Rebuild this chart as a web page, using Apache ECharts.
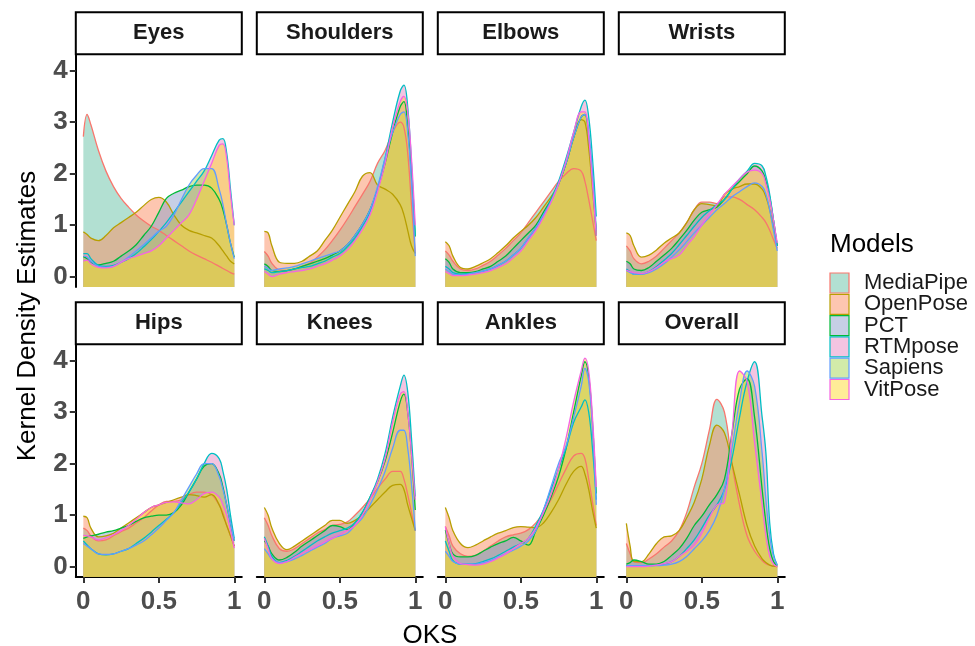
<!DOCTYPE html>
<html><head><meta charset="utf-8">
<script src="https://cdn.jsdelivr.net/npm/echarts@6/dist/echarts.min.js"></script>
<style>html,body{margin:0;padding:0;background:#fff}#c{width:975px;height:646px}</style>
</head><body><div id="c"></div>
<script>
const models = ['MediaPipe','OpenPose','PCT','RTMpose','Sapiens','VitPose'];
const panels = ['Eyes','Shoulders','Elbows','Wrists','Hips','Knees','Ankles','Overall'];
const xs = [0,0.025,0.05,0.1,0.15,0.2,0.25,0.3,0.35,0.4,0.45,0.5,0.55,0.6,0.65,0.7,0.75,0.8,0.85,0.9,0.925,0.95,0.975,1];
const yTicks = [0,1,2,3,4];
const xTicks = [0,0.5,1];

const eyes = [
 [2.72,3.15,2.95,2.45,2.05,1.75,1.52,1.35,1.2,1.08,0.98,0.9,0.8,0.7,0.6,0.5,0.42,0.35,0.28,0.2,0.16,0.12,0.08,0.05],
 [0.87,0.82,0.75,0.7,0.8,0.95,1.05,1.15,1.25,1.38,1.5,1.54,1.45,1.2,1.0,0.9,0.85,0.8,0.75,0.6,0.5,0.4,0.3,0.25],
 [0.39,0.35,0.28,0.23,0.26,0.3,0.4,0.5,0.62,0.8,0.98,1.25,1.52,1.62,1.68,1.75,1.78,1.78,1.72,1.5,1.3,1.0,0.65,0.38],
 [0.45,0.45,0.35,0.22,0.2,0.22,0.28,0.35,0.45,0.58,0.72,0.88,1.05,1.25,1.45,1.65,1.85,2.05,2.35,2.65,2.68,2.4,1.7,1.0],
 [0.4,0.38,0.3,0.2,0.18,0.2,0.28,0.38,0.5,0.62,0.75,0.88,0.98,1.2,1.5,1.78,1.97,2.1,2.1,1.7,1.4,1.0,0.65,0.35],
 [0.3,0.32,0.25,0.18,0.17,0.2,0.28,0.35,0.4,0.45,0.5,0.6,0.75,0.9,1.05,1.2,1.5,1.85,2.2,2.55,2.58,2.3,1.6,1.0]
];
const shoulders = [
 [0.49,0.4,0.26,0.13,0.12,0.15,0.2,0.26,0.38,0.52,0.7,0.9,1.12,1.36,1.6,1.85,2.2,2.45,2.8,3.0,2.9,2.4,1.4,0.45],
 [0.88,0.85,0.6,0.28,0.26,0.26,0.3,0.4,0.5,0.7,0.9,1.15,1.4,1.65,1.95,2.02,1.78,1.7,1.6,1.4,1.2,0.9,0.6,0.45],
 [0.25,0.2,0.12,0.1,0.12,0.15,0.2,0.25,0.3,0.35,0.42,0.5,0.62,0.8,1.02,1.3,1.7,2.2,2.8,3.3,3.4,2.9,2.0,0.78],
 [0.15,0.12,0.08,0.1,0.12,0.15,0.18,0.2,0.25,0.3,0.38,0.45,0.58,0.75,0.98,1.25,1.7,2.3,3.0,3.6,3.72,3.3,2.2,0.8],
 [0.2,0.16,0.12,0.15,0.17,0.2,0.25,0.3,0.35,0.4,0.45,0.5,0.62,0.8,1.02,1.3,1.75,2.3,2.8,3.15,3.2,2.8,1.8,0.4],
 [0.1,0.05,0.0,0.05,0.08,0.1,0.12,0.15,0.2,0.25,0.32,0.4,0.52,0.7,0.92,1.2,1.65,2.2,2.9,3.4,3.5,3.2,2.3,1.0]
];
const elbows = [
 [0.5,0.42,0.3,0.15,0.12,0.15,0.22,0.3,0.42,0.55,0.7,0.85,1.05,1.25,1.45,1.65,1.85,2.0,2.1,2.05,1.85,1.5,1.1,0.7],
 [0.68,0.6,0.4,0.18,0.15,0.2,0.27,0.35,0.47,0.6,0.75,0.88,1.0,1.15,1.35,1.55,1.8,2.2,2.7,3.05,3.0,2.5,1.7,0.9],
 [0.35,0.28,0.15,0.08,0.08,0.1,0.15,0.2,0.3,0.4,0.55,0.7,0.85,1.0,1.25,1.5,1.8,2.2,2.7,3.1,3.15,2.7,1.9,0.8],
 [0.2,0.15,0.08,0.05,0.06,0.08,0.11,0.15,0.22,0.3,0.42,0.55,0.75,0.95,1.2,1.5,1.85,2.3,2.8,3.3,3.43,3.1,2.3,1.17],
 [0.15,0.1,0.05,0.03,0.05,0.08,0.11,0.15,0.22,0.3,0.42,0.55,0.75,0.95,1.2,1.45,1.8,2.2,2.7,3.1,3.15,2.8,2.0,0.9],
 [0.1,0.06,0.02,0.02,0.03,0.05,0.08,0.12,0.18,0.25,0.37,0.5,0.7,0.9,1.15,1.45,1.8,2.25,2.8,3.2,3.2,2.7,1.8,0.8]
];
const wrists = [
 [0.6,0.5,0.35,0.25,0.3,0.4,0.55,0.7,0.85,1.05,1.3,1.45,1.45,1.42,1.55,1.55,1.5,1.4,1.3,1.15,1.05,0.9,0.72,0.55],
 [0.85,0.8,0.6,0.38,0.42,0.52,0.65,0.75,0.85,1.05,1.3,1.42,1.4,1.38,1.6,1.7,1.75,1.8,1.8,1.7,1.55,1.3,0.95,0.6],
 [0.3,0.25,0.15,0.12,0.18,0.3,0.42,0.55,0.72,0.9,1.1,1.25,1.3,1.35,1.5,1.7,1.85,2.0,2.15,2.05,1.85,1.55,1.1,0.6],
 [0.15,0.1,0.05,0.05,0.1,0.2,0.32,0.45,0.62,0.8,0.98,1.15,1.28,1.4,1.5,1.7,1.9,2.05,2.2,2.15,1.95,1.6,1.1,0.6],
 [0.12,0.08,0.05,0.05,0.08,0.15,0.25,0.38,0.52,0.68,0.85,1.0,1.15,1.3,1.42,1.55,1.65,1.75,1.82,1.75,1.6,1.3,0.9,0.5],
 [0.13,0.1,0.08,0.06,0.1,0.18,0.28,0.35,0.42,0.6,0.78,1.0,1.2,1.4,1.6,1.75,1.9,2.03,2.07,2.0,1.8,1.5,1.1,0.65]
];
const hips = [
 [0.75,0.7,0.6,0.5,0.52,0.6,0.68,0.75,0.85,0.95,1.08,1.2,1.27,1.27,1.3,1.4,1.45,1.45,1.4,1.2,1.05,0.8,0.6,0.4],
 [0.98,0.95,0.75,0.58,0.6,0.65,0.75,0.85,0.95,1.05,1.15,1.2,1.25,1.3,1.35,1.4,1.38,1.35,1.4,1.2,1.0,0.8,0.6,0.4],
 [0.55,0.58,0.6,0.63,0.67,0.7,0.75,0.8,0.88,0.95,0.98,1.0,1.0,1.05,1.2,1.45,1.7,1.95,2.0,1.8,1.55,1.2,0.85,0.5],
 [0.5,0.42,0.35,0.25,0.23,0.25,0.3,0.35,0.45,0.55,0.67,0.8,0.92,1.05,1.25,1.45,1.7,2.0,2.2,2.1,1.85,1.5,1.0,0.55],
 [0.45,0.4,0.35,0.25,0.24,0.25,0.3,0.35,0.42,0.5,0.62,0.75,0.9,1.05,1.3,1.55,1.8,2.0,2.0,1.75,1.5,1.2,0.85,0.5],
 [0.61,0.6,0.58,0.52,0.56,0.62,0.7,0.8,0.92,1.05,1.15,1.2,1.25,1.26,1.24,1.22,1.3,1.42,1.45,1.35,1.2,1.0,0.7,0.36]
];
const knees = [
 [0.95,0.8,0.6,0.35,0.3,0.35,0.45,0.55,0.65,0.72,0.8,0.82,0.87,1.0,1.15,1.32,1.52,1.7,1.85,1.85,1.7,1.4,1.05,0.7],
 [1.15,1.0,0.75,0.45,0.33,0.4,0.5,0.6,0.7,0.8,0.9,0.9,0.84,0.9,1.0,1.15,1.3,1.45,1.58,1.6,1.5,1.2,0.95,0.7],
 [0.5,0.4,0.25,0.13,0.18,0.28,0.4,0.5,0.6,0.7,0.8,0.78,0.72,0.85,1.05,1.35,1.65,2.05,2.6,3.2,3.35,3.0,2.2,1.1],
 [0.58,0.4,0.2,0.08,0.12,0.2,0.3,0.4,0.5,0.58,0.65,0.7,0.75,0.85,1.05,1.35,1.7,2.2,2.9,3.5,3.72,3.4,2.5,1.36],
 [0.35,0.25,0.15,0.08,0.1,0.15,0.22,0.3,0.38,0.45,0.55,0.6,0.65,0.8,0.95,1.2,1.5,1.85,2.3,2.65,2.65,2.3,1.6,0.7],
 [0.55,0.35,0.15,0.06,0.1,0.18,0.26,0.33,0.4,0.48,0.55,0.62,0.7,0.8,1.0,1.3,1.65,2.1,2.8,3.35,3.4,3.0,2.2,1.3]
];
const ankles = [
 [0.78,0.6,0.4,0.25,0.2,0.22,0.3,0.4,0.5,0.58,0.62,0.65,0.72,0.85,1.05,1.3,1.6,1.9,2.15,2.2,2.1,1.7,1.25,0.8],
 [1.15,0.95,0.7,0.45,0.37,0.42,0.5,0.58,0.65,0.7,0.76,0.78,0.77,0.76,0.85,1.05,1.3,1.6,1.85,1.95,1.8,1.5,1.1,0.75],
 [0.71,0.45,0.25,0.19,0.19,0.22,0.3,0.38,0.45,0.5,0.57,0.5,0.42,0.7,1.0,1.35,1.75,2.3,3.0,3.7,3.98,3.7,2.8,1.42],
 [0.5,0.3,0.12,0.05,0.05,0.06,0.1,0.15,0.22,0.3,0.38,0.45,0.55,0.8,1.1,1.5,1.9,2.3,2.8,3.1,3.24,3.0,2.3,1.3],
 [0.3,0.2,0.1,0.05,0.05,0.05,0.08,0.12,0.18,0.25,0.32,0.4,0.5,0.7,1.1,1.55,2.0,2.35,2.9,3.5,3.85,3.6,2.7,1.2],
 [0.78,0.45,0.2,0.06,0.04,0.03,0.05,0.1,0.17,0.25,0.35,0.45,0.55,0.75,1.05,1.4,1.9,2.5,3.2,3.8,4.05,3.8,2.9,1.55]
];
const overall = [
 [0.45,0.25,0.1,0.08,0.15,0.25,0.38,0.5,0.7,1.05,1.55,2.0,2.65,3.25,3.0,2.0,1.2,0.6,0.3,0.12,0.06,0.03,0.01,0],
 [0.84,0.4,0.1,0.1,0.25,0.45,0.58,0.6,0.7,0.95,1.25,1.7,2.35,2.75,2.6,2.0,1.4,0.8,0.4,0.15,0.08,0.03,0.01,0],
 [0.05,0.08,0.13,0.1,0.05,0.05,0.1,0.22,0.35,0.55,0.8,0.98,1.2,1.4,1.7,2.6,3.45,3.65,2.9,1.5,0.85,0.35,0.1,0.02],
 [0.02,0.02,0.02,0.02,0.02,0.03,0.05,0.1,0.2,0.35,0.52,0.75,1.0,1.2,1.5,2.1,2.9,3.6,3.98,2.9,2.2,0.85,0.25,0.03],
 [0.02,0.02,0.02,0.02,0.02,0.02,0.03,0.05,0.1,0.2,0.35,0.5,0.7,1.0,1.5,2.3,3.2,3.8,3.5,2.2,1.3,0.6,0.2,0.03],
 [0,0,0,0,0.01,0.03,0.06,0.1,0.2,0.3,0.42,0.65,0.95,1.2,1.25,2.6,3.8,3.6,2.4,1.2,0.6,0.2,0.05,0]
];
const panelData = [eyes, shoulders, elbows, wrists, hips, knees, ankles, overall];

const lineColors = ['#F8766D','#B79F00','#00BA38','#00BFC4','#619CFF','#F564E3'];
const fillColors = ['#66C2A5','#FC8D62','#8DA0CB','#E78AC3','#A6D854','#FFD92F'];
const FILL_ALPHA = 0.5;

function withAlpha(hex, a) {
  const n = parseInt(hex.slice(1), 16);
  return 'rgba(' + ((n >> 16) & 255) + ',' + ((n >> 8) & 255) + ',' + (n & 255) + ',' + a + ')';
}

const FONT = 'Liberation Sans, Arial, Helvetica, sans-serif';
const colLeft = [75.8, 256.8, 437.8, 618.8];
const panelW = 166;
const rowTop = [55.25, 345.25];
const panelH = 231.75;
const stripH = 42;

const grids = [], xAxes = [], yAxes = [], series = [], graphics = [];
panels.forEach((p, i) => {
  const r = Math.floor(i / 4), c = i % 4;
  grids.push({left: colLeft[c], top: rowTop[r], width: panelW, height: panelH, containLabel: false});
  const bottom = r === 1, left = c === 0;
  xAxes.push({
    type: 'value', gridIndex: i, min: -0.05, max: 1.05,
    axisLine: {show: bottom, onZero: false, lineStyle: {color: '#000', width: 2}},
    axisTick: {show: bottom, customValues: xTicks, length: 6, lineStyle: {color: '#333', width: 2}},
    axisLabel: {show: bottom, customValues: xTicks, formatter: v => String(v), fontSize: 26, fontWeight: 'bold', color: '#4d4d4d', fontFamily: FONT, margin: 12},
    splitLine: {show: false}
  });
  yAxes.push({
    type: 'value', gridIndex: i, min: -0.2, max: 4.3,
    axisLine: {show: left, onZero: false, lineStyle: {color: '#000', width: 2}},
    axisTick: {show: left, customValues: yTicks, length: 6, lineStyle: {color: '#333', width: 2}},
    axisLabel: {show: left, customValues: yTicks, fontSize: 26, fontWeight: 'bold', color: '#4d4d4d', fontFamily: FONT, margin: 8},
    splitLine: {show: false}
  });
  panelData[i].forEach((vals, m) => {
    series.push({
      type: 'line', name: models[m], xAxisIndex: i, yAxisIndex: i,
      data: xs.map((x, k) => [x, vals[k]]),
      smooth: 0.4, showSymbol: false, symbol: 'none',
      lineStyle: {color: lineColors[m], width: 1.3},
      itemStyle: {color: lineColors[m]},
      areaStyle: {color: fillColors[m], opacity: FILL_ALPHA, origin: 'start'},
      emphasis: {disabled: true}, silent: true, animation: false
    });
  });
  graphics.push({
    type: 'rect', shape: {x: colLeft[c], y: rowTop[r] - stripH - 1, width: panelW, height: stripH},
    style: {fill: '#fff', stroke: '#000', lineWidth: 2}
  });
  graphics.push({
    type: 'text', x: colLeft[c] + panelW / 2, y: rowTop[r] - stripH / 2 - 1,
    style: {text: p, font: 'bold 22px ' + FONT, fill: '#1a1a1a', align: 'center', verticalAlign: 'middle'}
  });
});

// axis titles
graphics.push({
  type: 'text', x: 28, y: 316, rotation: Math.PI / 2,
  style: {text: 'Kernel Density Estimates', font: '26px ' + FONT, fill: '#000', align: 'center', verticalAlign: 'middle'}
});
graphics.push({
  type: 'text', x: 430, y: 636,
  style: {text: 'OKS', font: '26px ' + FONT, fill: '#000', align: 'center', verticalAlign: 'middle'}
});
// legend
graphics.push({
  type: 'text', x: 830, y: 245,
  style: {text: 'Models', font: '26px ' + FONT, fill: '#000', align: 'left', verticalAlign: 'middle'}
});
models.forEach((m, k) => {
  const cy = 283 + k * 21.3;
  graphics.push({
    type: 'rect', shape: {x: 830, y: cy - 10, width: 19, height: 20},
    style: {fill: withAlpha(fillColors[k], FILL_ALPHA), stroke: lineColors[k], lineWidth: 1.2},
    z: 10
  });
  graphics.push({
    type: 'text', x: 864, y: cy,
    style: {text: m, font: '22px ' + FONT, fill: '#1a1a1a', align: 'left', verticalAlign: 'middle'}
  });
});

const chart = echarts.init(document.getElementById('c'), null, {renderer: 'canvas'});
chart.setOption({
  animation: false,
  backgroundColor: '#fff',
  grid: grids, xAxis: xAxes, yAxis: yAxes, series: series,
  graphic: graphics
});
</script></body></html>
